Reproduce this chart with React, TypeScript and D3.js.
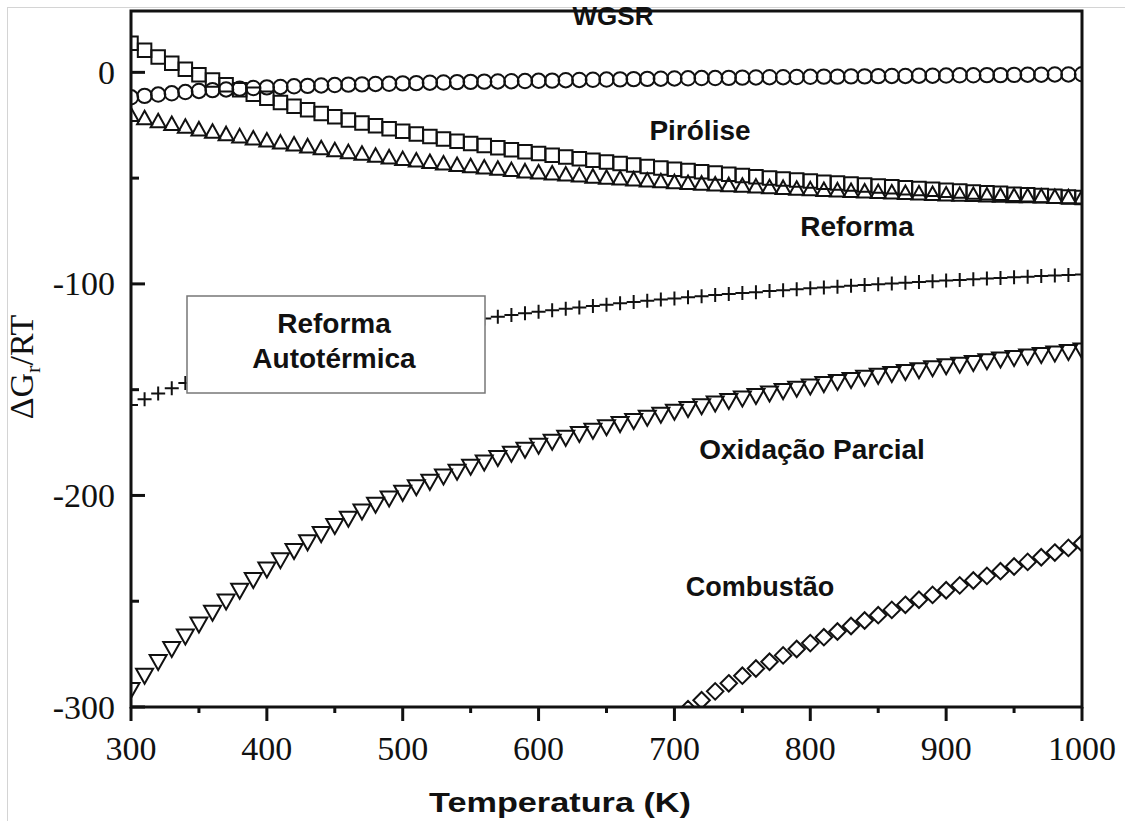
import React from "react";
import * as d3 from "d3";

// Temperature grid (K) for the main series
const TEMPS = [300,310,320,330,340,350,360,370,380,390,400,410,420,430,440,450,460,470,480,490,500,510,520,530,540,550,560,570,580,590,600,610,620,630,640,650,660,670,680,690,700,710,720,730,740,750,760,770,780,790,800,810,820,830,840,850,860,870,880,890,900,910,920,930,940,950,960,970,980,990,1000];

// ΔGr/RT values
const WGSR = [-11.8,-11.1,-10.5,-9.9,-9.3,-8.8,-8.4,-8.1,-7.7,-7.4,-7.1,-6.9,-6.6,-6.4,-6.2,-6.0,-5.8,-5.7,-5.5,-5.4,-5.2,-5.1,-4.9,-4.8,-4.6,-4.5,-4.4,-4.3,-4.2,-4.1,-4.0,-3.9,-3.7,-3.6,-3.5,-3.4,-3.3,-3.2,-3.1,-3.0,-2.9,-2.8,-2.7,-2.7,-2.6,-2.5,-2.4,-2.3,-2.3,-2.2,-2.1,-2.0,-2.0,-1.9,-1.9,-1.8,-1.7,-1.7,-1.6,-1.6,-1.5,-1.4,-1.4,-1.3,-1.3,-1.2,-1.1,-1.1,-1.0,-1.0,-0.9];
const PIROLISE = [13.8,10.4,7.3,4.3,1.5,-1.1,-3.6,-5.9,-8.2,-10.3,-12.3,-14.2,-16.0,-17.7,-19.4,-21.0,-22.5,-23.9,-25.3,-26.7,-27.9,-29.2,-30.3,-31.5,-32.6,-33.6,-34.6,-35.6,-36.6,-37.5,-38.4,-39.2,-40.0,-40.8,-41.6,-42.4,-43.1,-43.8,-44.5,-45.2,-45.8,-46.4,-47.0,-47.6,-48.2,-48.8,-49.3,-49.9,-50.4,-50.9,-51.4,-51.9,-52.3,-52.8,-53.3,-53.7,-54.1,-54.5,-54.9,-55.3,-55.7,-56.1,-56.5,-56.9,-57.2,-57.6,-57.9,-58.2,-58.6,-58.9,-59.2];
const REFORMA = [-20.5,-22.0,-23.4,-24.75,-26.05,-27.25,-28.4,-29.5,-30.55,-31.55,-32.5,-33.5,-34.4,-35.3,-36.2,-37.1,-38.0,-38.8,-39.7,-40.5,-41.3,-42.0,-42.7,-43.4,-44.1,-44.7,-45.3,-45.9,-46.5,-47.1,-47.6,-48.1,-48.6,-49.1,-49.6,-50.1,-50.5,-50.9,-51.4,-51.8,-52.2,-52.6,-52.9,-53.3,-53.6,-53.9,-54.3,-54.6,-54.9,-55.3,-55.6,-55.9,-56.1,-56.4,-56.6,-56.9,-57.1,-57.3,-57.6,-57.8,-58.0,-58.2,-58.3,-58.5,-58.6,-58.8,-58.9,-59.0,-59.2,-59.3,-59.5];
const AUTOTERMICA = [-157.3,-154.5,-151.8,-149.3,-146.9,-144.7,-142.6,-140.6,-138.7,-137.0,-135.3,-133.6,-132.1,-130.6,-129.2,-127.9,-126.6,-125.4,-124.2,-123.1,-122.0,-121.0,-120.0,-119.0,-118.1,-117.2,-116.3,-115.5,-114.7,-113.9,-113.2,-112.4,-111.7,-111.1,-110.4,-109.8,-109.2,-108.6,-108.0,-107.4,-106.9,-106.3,-105.8,-105.3,-104.8,-104.3,-103.9,-103.4,-103.0,-102.5,-102.1,-101.7,-101.3,-100.9,-100.5,-100.2,-99.8,-99.5,-99.1,-98.8,-98.4,-98.1,-97.8,-97.5,-97.2,-96.9,-96.6,-96.3,-96.0,-95.8,-95.5];
const OXIDACAO = [-291.5,-284.8,-278.3,-272.1,-266.2,-260.5,-255.0,-249.7,-244.6,-239.5,-234.5,-230.1,-225.8,-221.7,-217.8,-214.0,-210.5,-207.1,-203.9,-201.0,-198.3,-195.6,-193.1,-190.6,-188.3,-186.0,-183.9,-181.8,-179.8,-177.9,-176.0,-174.1,-172.3,-170.5,-168.9,-167.3,-165.8,-164.3,-162.8,-161.4,-160.0,-158.7,-157.4,-156.1,-154.9,-153.7,-152.5,-151.3,-150.2,-149.1,-148.0,-146.9,-145.9,-144.9,-143.9,-143.0,-142.1,-141.2,-140.3,-139.4,-138.5,-137.7,-136.9,-136.1,-135.3,-134.5,-133.8,-133.1,-132.4,-131.7,-131.0];
const COMB_TEMPS = [700,710,720,730,740,750,760,770,780,790,800,810,820,830,840,850,860,870,880,890,900,910,920,930,940,950,960,970,980,990,1000];
const COMBUSTAO = [-305.0,-301.0,-296.8,-292.6,-288.8,-285.2,-281.8,-278.6,-275.6,-272.6,-269.8,-267.0,-264.3,-261.7,-259.1,-256.6,-254.1,-251.7,-249.3,-247.0,-244.8,-242.5,-240.2,-238.0,-235.8,-233.6,-231.4,-229.2,-227.0,-224.8,-222.6];

const X_TICKS = [300, 400, 500, 600, 700, 800, 900, 1000];
const X_MINOR = [350, 450, 550, 650, 750, 850, 950];
const Y_TICKS = [-300, -200, -100, 0];
const Y_MINOR = [-250, -150, -50];

const W = 1132;
const H = 821;
const P = { left: 131, right: 1082, top: 11, bottom: 707 };

const circle = (r: number) => `M${-r},0a${r},${r} 0 1,0 ${2 * r},0a${r},${r} 0 1,0 ${-2 * r},0Z`;
const square = (s: number) => `M${-s / 2},${-s / 2}h${s}v${s}h${-s}Z`;
const triUp = (w: number, h: number) => `M0,${-h * 0.6}L${w / 2},${h * 0.4}L${-w / 2},${h * 0.4}Z`;
const triDown = (w: number, h: number) => `M0,${h * 0.6}L${w / 2},${-h * 0.4}L${-w / 2},${-h * 0.4}Z`;
const plus = (s: number) => `M${-s / 2},0H${s / 2}M0,${-s / 2}V${s / 2}`;
const diamond = (s: number) => `M0,${-s / 2}L${s / 2},0L0,${s / 2}L${-s / 2},0Z`;

export default function App() {
  const x = d3.scaleLinear().domain([300, 1000]).range([P.left, P.right]);
  const y = d3.scaleLinear().domain([-300, 29]).range([P.bottom, P.top]);

  const series = [
    { t: TEMPS, v: WGSR, d: circle(7.2) },
    { t: TEMPS, v: PIROLISE, d: square(13.5) },
    { t: TEMPS, v: REFORMA, d: triUp(15, 13.5) },
    { t: TEMPS, v: AUTOTERMICA, d: plus(14) },
    { t: TEMPS, v: OXIDACAO, d: triDown(17, 15) },
    { t: COMB_TEMPS, v: COMBUSTAO, d: diamond(16.5) },
  ];

  const ink = "#111";
  const sans = "'Liberation Sans', Arial, sans-serif";
  const serif = "'Liberation Serif', 'Times New Roman', serif";

  return (
    <svg
      width={W}
      height={H}
      viewBox={`0 0 ${W} ${H}`}
      style={{ position: "absolute", left: 0, top: 0, background: "#fff" }}
    >
      <defs>
        <clipPath id="plotClip">
          <rect x={P.left} y={P.top} width={P.right - P.left} height={P.bottom - P.top} />
        </clipPath>
      </defs>
      <rect x={0} y={0} width={W} height={H} fill="#fff" />
      {/* faint image border */}
      <line x1={8} x2={1125} y1={7.5} y2={7.5} stroke="#d4d4d4" strokeWidth={1} />
      <line x1={7.5} x2={7.5} y1={7} y2={H} stroke="#d4d4d4" strokeWidth={1} />

      {/* series */}
      <g clipPath="url(#plotClip)">
        {series.map((s, k) => (
          <g key={k}>
            {s.t.map((t, i) => (
              <path
                key={i}
                transform={`translate(${x(t)},${y(s.v[i])})`}
                d={s.d}
                fill="none"
                stroke={ink}
                strokeWidth={2}
              />
            ))}
          </g>
        ))}
      </g>

      {/* frame */}
      <rect
        x={P.left}
        y={P.top}
        width={P.right - P.left}
        height={P.bottom - P.top}
        fill="none"
        stroke={ink}
        strokeWidth={3}
      />

      {/* x ticks (outward) */}
      {X_TICKS.map((t) => (
        <line key={"xt" + t} x1={x(t)} x2={x(t)} y1={P.bottom} y2={P.bottom + 14} stroke={ink} strokeWidth={3} />
      ))}
      {X_MINOR.map((t) => (
        <line key={"xm" + t} x1={x(t)} x2={x(t)} y1={P.bottom} y2={P.bottom + 6} stroke={ink} strokeWidth={3} />
      ))}
      {X_TICKS.map((t) => (
        <text key={"xl" + t} x={x(t)} y={760} textAnchor="middle" fontFamily={serif} fontSize={34} fill={ink}>
          {t}
        </text>
      ))}

      {/* y ticks (inward) */}
      {Y_TICKS.map((v) => (
        <line key={"yt" + v} x1={P.left} x2={P.left + 14} y1={y(v)} y2={y(v)} stroke={ink} strokeWidth={3} />
      ))}
      {Y_MINOR.map((v) => (
        <line key={"ym" + v} x1={P.left} x2={P.left + 8} y1={y(v)} y2={y(v)} stroke={ink} strokeWidth={3} />
      ))}
      {Y_TICKS.map((v) => (
        <text key={"yl" + v} x={115} y={y(v) + 11.5} textAnchor="end" fontFamily={serif} fontSize={34} fill={ink}>
          {v}
        </text>
      ))}

      {/* axis titles */}
      <text transform="translate(33,367) rotate(-90)" textAnchor="middle" fontFamily={serif} fontSize={34} fill={ink}>
        ΔG<tspan dy={7} fontSize={22}>r</tspan>
        <tspan dy={-7}>/RT</tspan>
      </text>
      <text
        x={560}
        y={812}
        textAnchor="middle"
        fontFamily={sans}
        fontWeight="bold"
        fontSize={27}
        textLength={262}
        lengthAdjust="spacingAndGlyphs"
        fill={ink}
      >
        Temperatura (K)
      </text>

      {/* annotation box */}
      <rect x={187} y={296} width={298} height={97} fill="#fff" stroke="#777" strokeWidth={1.5} />
      <text x={334} y={333} textAnchor="middle" fontFamily={sans} fontWeight="bold" fontSize={28} fill={ink}>
        Reforma
      </text>
      <text x={334} y={368} textAnchor="middle" fontFamily={sans} fontWeight="bold" fontSize={28} fill={ink}>
        Autotérmica
      </text>

      {/* curve labels */}
      <text x={613} y={25} textAnchor="middle" fontFamily={sans} fontWeight="bold" fontSize={26} fill={ink}>WGSR</text>
      <text x={700} y={140} textAnchor="middle" fontFamily={sans} fontWeight="bold" fontSize={28} fill={ink}>Pirólise</text>
      <text x={857} y={236} textAnchor="middle" fontFamily={sans} fontWeight="bold" fontSize={28} fill={ink}>Reforma</text>
      <text x={812} y={459} textAnchor="middle" fontFamily={sans} fontWeight="bold" fontSize={28} fill={ink}>Oxidação Parcial</text>
      <text x={760} y={596} textAnchor="middle" fontFamily={sans} fontWeight="bold" fontSize={27} fill={ink}>Combustão</text>
    </svg>
  );
}
